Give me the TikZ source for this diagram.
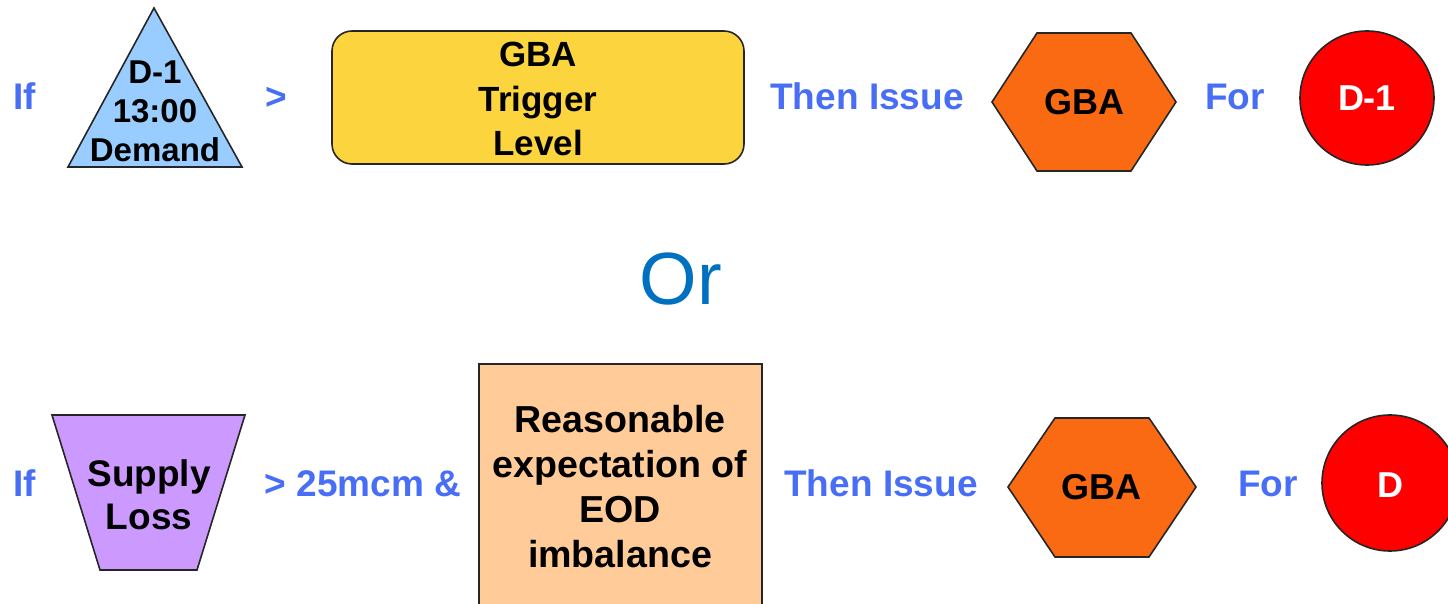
\documentclass[tikz,border=0pt]{standalone}
\usepackage{fontspec}
\setmainfont{Liberation Sans}
\definecolor{lbl}{RGB}{72,110,246}
\definecolor{orblue}{RGB}{0,112,192}
\definecolor{tricol}{RGB}{153,204,255}
\definecolor{goldcol}{RGB}{252,212,62}
\definecolor{hexcol}{RGB}{249,106,18}
\definecolor{redcol}{RGB}{255,0,0}
\definecolor{purpcol}{RGB}{204,153,255}
\definecolor{peachcol}{RGB}{255,204,153}
\begin{document}
\begin{tikzpicture}[x=0.5pt,y=-0.5pt]
\useasboundingbox (0,0) rectangle (1448,604);
\clip (0,0) rectangle (1448,604);
\tikzset{
  bluelabel/.style={text=lbl, font=\bfseries\fontsize{18.5}{22}\selectfont, inner sep=0pt, anchor=base},
  shapeedge/.style={draw=black!85, line width=0.8pt},
  blacktext/.style={text=black, align=center, inner sep=0pt, font=\bfseries\fontsize{#1}{#1}\selectfont},
}
% ---------- top row ----------
\node[bluelabel] (if1) at (25,110) {If};
\draw[shapeedge, fill=tricol] (154,8) -- (242,167) -- (68,167) -- cycle;
\node[blacktext=16.5, font=\bfseries\fontsize{16.5}{19.5}\selectfont] (tri) at (155,111) {D-1\\13:00\\Demand};
\node[bluelabel] (gt1) at (276,110) {>};
\draw[shapeedge, fill=goldcol, rounded corners=10pt] (332,31) rectangle (744,164);
\node[blacktext=17.5, font=\bfseries\fontsize{17.5}{22.2}\selectfont] (trig) at (538,99) {GBA\\Trigger\\Level};
\node[bluelabel] (then1) at (867,110) {Then Issue};
\draw[shapeedge, fill=hexcol] (992,102) -- (1037,33) -- (1131,33) -- (1176,102) -- (1131,171) -- (1037,171) -- cycle;
\node[blacktext=18] (gba1) at (1084,102) {GBA};
\node[bluelabel] (for1) at (1235,110) {For};
\draw[shapeedge, fill=redcol] (1367,98) circle[radius=67];
\node[blacktext=18, text=white] (d1) at (1367,98) {D-1};
% ---------- Or ----------
\node[text=orblue, font=\fontsize{37}{40}\selectfont, inner sep=0pt, anchor=base] (or) at (681,305) {Or};
% ---------- bottom row ----------
\node[bluelabel] (if2) at (25,497) {If};
\draw[shapeedge, fill=purpcol] (52,415) -- (245,415) -- (197,570) -- (100,570) -- cycle;
\node[blacktext=18.5, font=\bfseries\fontsize{18.5}{21.5}\selectfont] (sup) at (149,495) {Supply\\Loss};
\node[bluelabel] (gt2) at (363,497) {> 25mcm \&};
\draw[shapeedge, fill=peachcol] (479,364) rectangle (762,640);
\node[blacktext=18.8, font=\bfseries\fontsize{18.8}{22.5}\selectfont] (eod) at (620,487) {Reasonable\\expectation of\\EOD\\imbalance};
\node[bluelabel] (then2) at (881,497) {Then Issue};
\draw[shapeedge, fill=hexcol] (1008,487) -- (1055,418) -- (1149,418) -- (1196,487) -- (1149,557) -- (1055,557) -- cycle;
\node[blacktext=18] (gba2) at (1101,487) {GBA};
\node[bluelabel] (for2) at (1268,497) {For};
\draw[shapeedge, fill=redcol] (1390,483) circle[radius=68];
\node[blacktext=18, text=white] (d2) at (1390,485) {D};
\end{tikzpicture}
\end{document}
